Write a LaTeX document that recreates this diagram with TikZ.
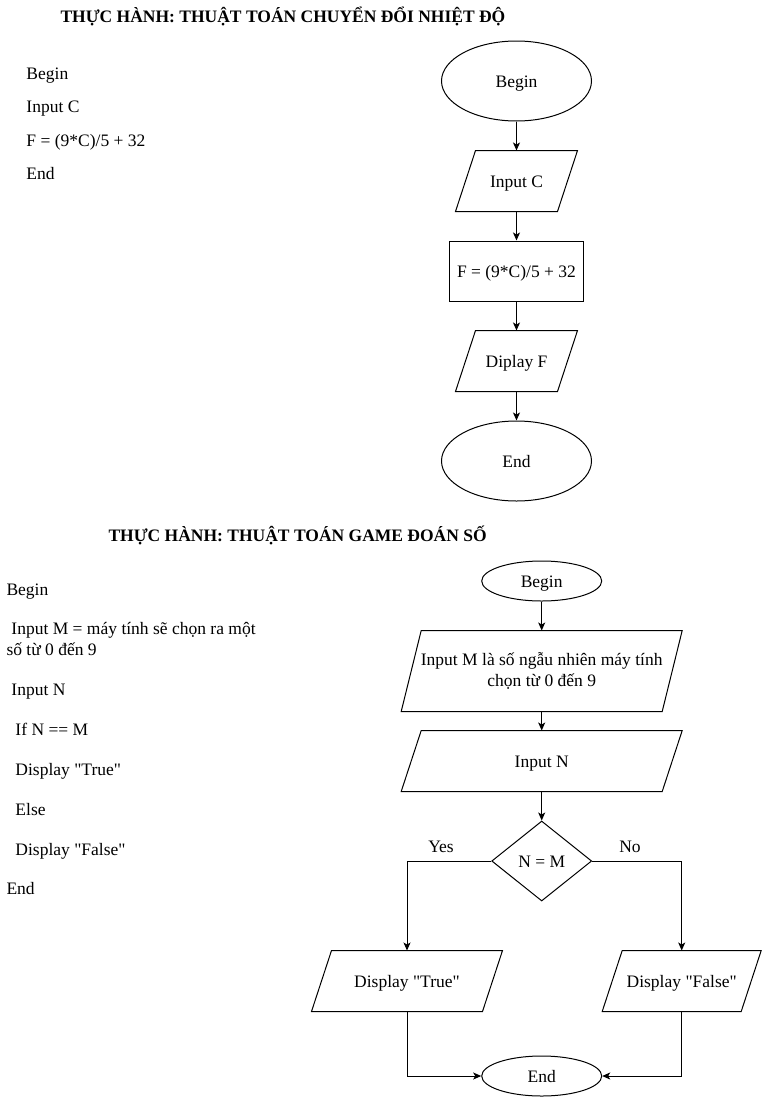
\documentclass[tikz,border=0pt]{standalone}
\usepackage{fontspec}
\setmainfont{Liberation Serif}
\usetikzlibrary{shapes.geometric,arrows.meta}
\tikzset{>={Stealth[length=8pt,width=7pt,inset=2pt]}}
\newcommand{\txtsize}{\fontsize{17.5}{21.5}\selectfont}
\newcommand{\qt}[1]{\textquotedbl#1\textquotedbl}
\tikzset{
  code/.style={anchor=base west,inner sep=0pt,font=\txtsize},
  heading/.style={anchor=base west,inner sep=0pt,font=\txtsize\bfseries},
  oneline/.style={text height=16pt,text depth=3.5pt},
  term/.style={ellipse,draw,inner sep=0pt,font=\txtsize,oneline},
  proc/.style={rectangle,draw,inner sep=0pt,font=\txtsize,oneline},
  io/.style={rectangle,inner sep=0pt,align=center,font=\txtsize,
    append after command={\pgfextra{\draw ([xshift=20pt]\tikzlastnode.north west)
      -- (\tikzlastnode.north east) -- ([xshift=-20pt]\tikzlastnode.south east)
      -- (\tikzlastnode.south west) -- cycle;}}},
  cond/.style={diamond,draw,inner sep=0pt,font=\txtsize,oneline},
  lbl/.style={inner sep=0pt,font=\txtsize,oneline},
  flow/.style={->}
}

\begin{document}
\begin{tikzpicture}[x=1pt,y=-1pt,line width=1pt]

\useasboundingbox (0,0) rectangle (763,1103);

%% nhiet do
\node[heading] (h1) at (60,22) {THỰC HÀNH: THUẬT TOÁN CHUYỂN ĐỔI NHIỆT ĐỘ};

\node[code] (c1) at (26,79) {Begin};
\node[code] (c2) at (26,112.5) {Input C};
\node[code] (c3) at (26,146) {F = (9*C)/5 + 32};
\node[code] (c4) at (26,179.5) {End};

\node[term, minimum width=150pt, minimum height=80pt] (b1) at (516.5,81) {Begin};
\node[io, oneline, minimum width=121pt, minimum height=60pt] (inc) at (516.5,181) {Input C};
\node[proc, minimum width=134pt, minimum height=60pt] (cf) at (516.5,271) {F = (9*C)/5 + 32};
\node[io, oneline, minimum width=121pt, minimum height=60pt] (outf) at (516.5,361) {Diplay F};
\node[term, minimum width=150pt, minimum height=80pt] (e1) at (516.5,461) {End};

\draw[flow] (b1) -- (inc);
\draw[flow] (inc) -- (cf);
\draw[flow] (cf) -- (outf);
\draw[flow] (outf) -- (e1);

%% game doan so
\node[heading] (h2) at (108,541.5) {THỰC HÀNH: THUẬT TOÁN GAME ĐOÁN SỐ};

\node[code] (g1) at (6,595) {Begin};
\node[code] (g2) at (11,634) { Input M = máy tính sẽ chọn ra một};
\node[code] (g3) at (6,655) {số từ 0 đến 9};
\node[code] (g4) at (11,695) {Input N};
\node[code] (g5) at (15,735) {If N == M};
\node[code] (g6) at (15,775) {Display \qt{True}};
\node[code] (g7) at (15,815) {Else};
\node[code] (g8) at (15,855) {Display \qt{False}};
\node[code] (g9) at (6,894.5) {End};

\node[term, minimum width=120pt, minimum height=40pt] (b2) at (541.7,581) {Begin};
\node[io, minimum width=280pt, minimum height=80pt] (inm) at (541.7,671)
  {Input M là số ngẫu nhiên máy tính\\chọn từ 0 đến 9};
\node[io, oneline, minimum width=280pt, minimum height=60pt] (inn) at (541.7,761) {Input N};
\node[cond, minimum width=100pt, minimum height=80pt] (eq) at (541.7,861) {N = M};
\node[io, oneline, minimum width=190pt, minimum height=60pt] (outt) at (407,981) {Display \qt{True}};
\node[io, oneline, minimum width=158pt, minimum height=60pt] (outfa) at (681.7,981) {Display \qt{False}};
\node[term, minimum width=120pt, minimum height=40pt] (e2) at (541.7,1076) {End};

\node[lbl] (yes) at (441,846) {Yes};
\node[lbl] (no) at (630,846) {No};

\draw[flow] (b2) -- (inm);
\draw[flow] (inm) -- (inn);
\draw[flow] (inn) -- (eq);
\draw[flow] (eq.west) -| (outt.north);
\draw[flow] (eq.east) -| (outfa.north);
\draw[flow] (outt.south) |- (e2.west);
\draw[flow] (outfa.south) |- (e2.east);

\end{tikzpicture}
\end{document}
